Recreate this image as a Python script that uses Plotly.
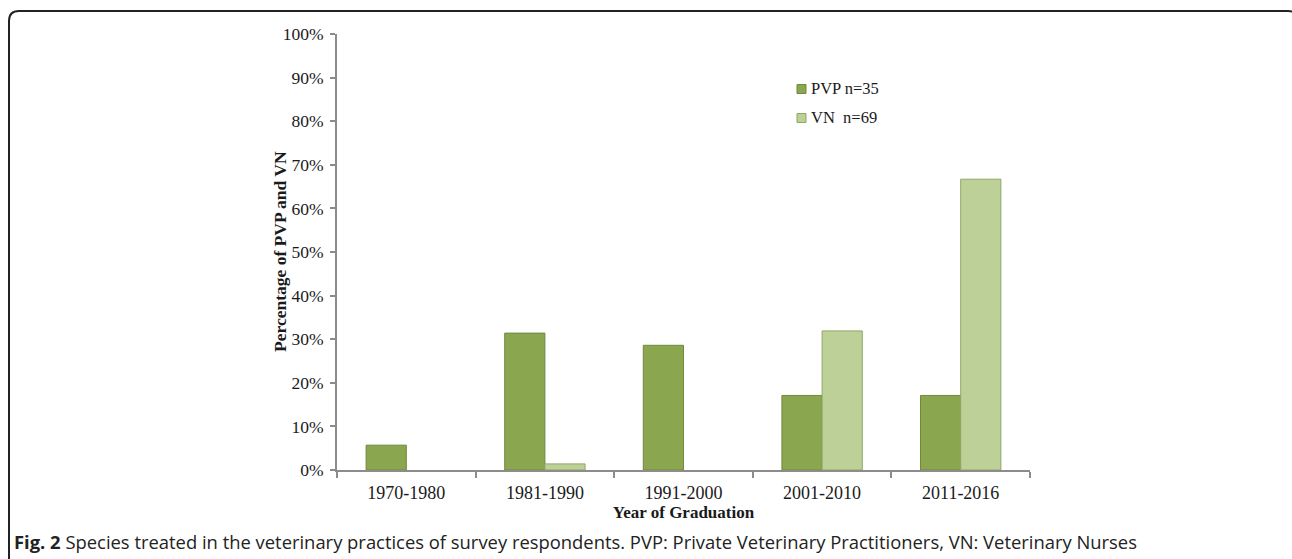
import plotly.graph_objects as go

categories = ["1970-1980", "1981-1990", "1991-2000", "2001-2010", "2011-2016"]
pvp_values = [5.7, 31.4, 28.6, 17.1, 17.1]
vn_values = [0.0, 1.4, 0.0, 31.9, 66.7]
series_names = ["PVP n=35", "VN  n=69"]
y_ticks = [0, 10, 20, 30, 40, 50, 60, 70, 80, 90, 100]
y_tick_labels = [f"{v}%" for v in y_ticks]

W, H = 1292, 559
L, R, T, B = 337, 1030, 34, 470
pw, ph = R - L, B - T

def px_x(x):
    return (x - L) / pw

def px_y(y):
    return (B - y) / ph

serif = "Liberation Serif"
axis_col = "#8c8c8c"
txt = "#1a1a1a"
fills = ["#8aa64e", "#bcd098"]
edges = ["#71883f", "#8fa866"]

fig = go.Figure()
for vals, name, fc, ec in zip([pvp_values, vn_values], series_names, fills, edges):
    fig.add_trace(go.Bar(
        x=categories, y=vals, name=name, showlegend=False,
        marker=dict(color=fc, line=dict(color=ec, width=[1 if v > 0 else 0 for v in vals])),
    ))

# rounded frame
x0, x1 = px_x(9), px_x(1298)
y0, y1 = px_y(575), px_y(11)
rx, ry = 10 / pw, 10 / ph
path = (f"M {x0},{y0} L {x0},{y1 - ry} Q {x0},{y1} {x0 + rx},{y1} "
        f"L {x1 - rx},{y1} Q {x1},{y1} {x1},{y1 - ry} L {x1},{y0}")

shapes = [dict(type="path", path=path, xref="paper", yref="paper",
               line=dict(color="#222222", width=2), layer="above")]
annotations = []
# legend (manual, to match compact swatch layout)
for i, (name, fc, ec) in enumerate(zip(series_names, fills, edges)):
    cy = 89 + i * 29
    shapes.append(dict(type="rect", xref="paper", yref="paper",
                       x0=px_x(797), x1=px_x(806), y0=px_y(cy + 4.5), y1=px_y(cy - 4.5),
                       fillcolor=fc, line=dict(color=ec, width=1)))
    annotations.append(dict(text=name.replace("  ", "&nbsp; "), x=px_x(809), y=px_y(cy),
                            xref="paper", yref="paper", xanchor="left", yanchor="middle",
                            showarrow=False, font=dict(family=serif, size=16.5, color=txt)))

# y-axis title
annotations.append(dict(
    text="<b>Percentage of PVP and VN</b>", textangle=-90,
    x=px_x(280), y=px_y(252), xref="paper", yref="paper",
    xanchor="center", yanchor="middle", showarrow=False,
    font=dict(family=serif, size=17.5, color=txt),
))

annotations.append(dict(
    text="<b>Fig. 2</b> Species treated in the veterinary practices of survey respondents. "
         "PVP: Private Veterinary Practitioners, VN: Veterinary Nurses",
    x=px_x(12), y=px_y(541), xref="paper", yref="paper",
    xanchor="left", yanchor="middle", showarrow=False,
    font=dict(family="Open Sans", size=18.4, color="#222222"),
))

fig.update_layout(
    width=W, height=H,
    margin=dict(l=L, r=W - R, t=T, b=H - B, pad=0),
    paper_bgcolor="white", plot_bgcolor="white",
    barmode="group", bargap=0.42, bargroupgap=0,
    font=dict(family=serif, size=16, color=txt),
    showlegend=False,
    xaxis=dict(
        type="category", showline=True, linecolor=axis_col, linewidth=2,
        ticks="outside", tickson="boundaries", ticklen=6, tickcolor=axis_col,
        tickwidth=1.5, showgrid=False, zeroline=False, ticklabelstandoff=5,
        tickfont=dict(family=serif, size=18, color=txt),
        title=dict(text="<b>Year of Graduation</b>", standoff=4,
                   font=dict(family=serif, size=17, color=txt)),
    ),
    yaxis=dict(
        range=[0, 100], tickvals=y_ticks, ticktext=y_tick_labels,
        showline=True, linecolor=axis_col, linewidth=2,
        ticks="outside", ticklen=5, tickcolor=axis_col, tickwidth=1.5,
        showgrid=False, zeroline=False, ticklabelstandoff=3,
        tickfont=dict(family=serif, size=17.5, color=txt),
    ),
    shapes=shapes,
    annotations=annotations,
)

fig.write_html("out.html")
